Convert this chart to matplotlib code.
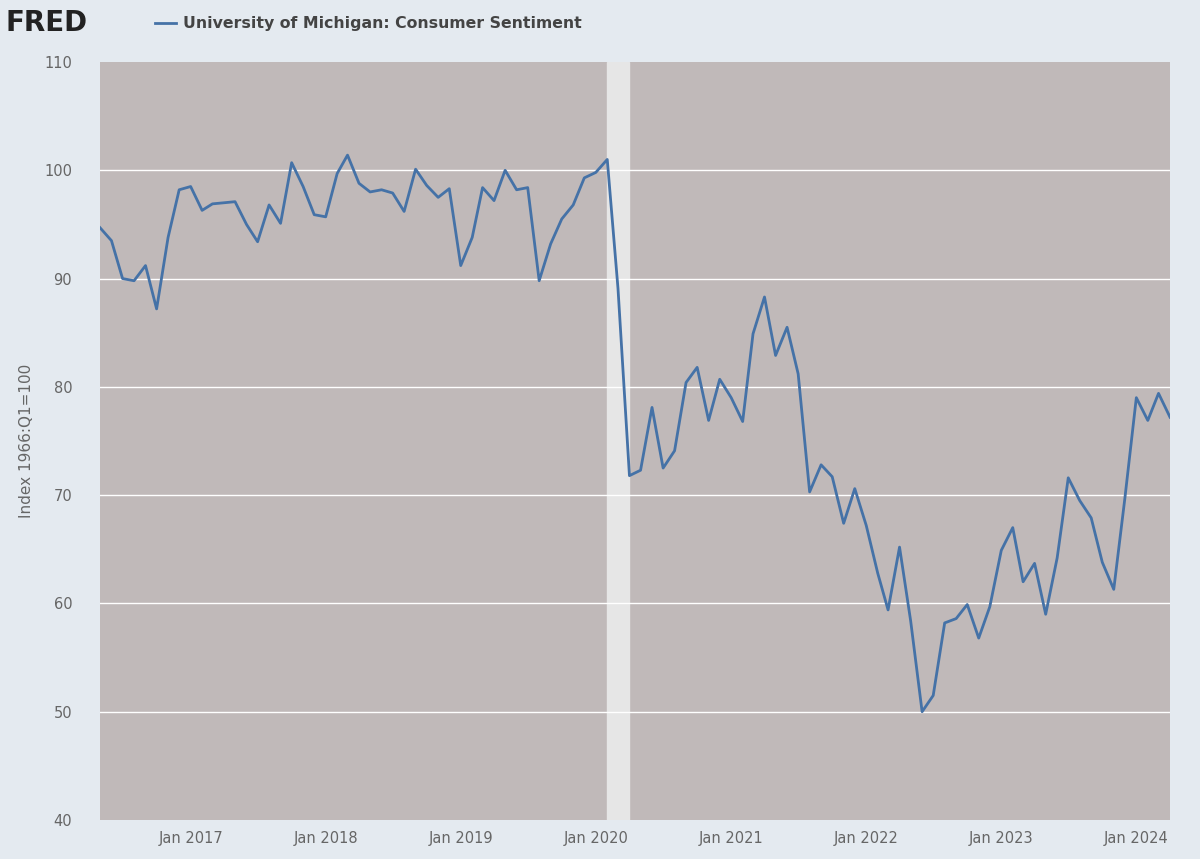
import matplotlib
matplotlib.use("Agg")
import matplotlib.pyplot as plt
import pandas as pd

start = "2016-05-01"
values = [94.7, 93.5, 90.0, 89.8, 91.2, 87.2, 93.8, 98.2,
          98.5, 96.3, 96.9, 97.0, 97.1, 95.0, 93.4, 96.8, 95.1, 100.7, 98.5, 95.9,
          95.7, 99.7, 101.4, 98.8, 98.0, 98.2, 97.9, 96.2, 100.1, 98.6, 97.5, 98.3,
          91.2, 93.8, 98.4, 97.2, 100.0, 98.2, 98.4, 89.8, 93.2, 95.5, 96.8, 99.3,
          99.8, 101.0, 89.1, 71.8, 72.3, 78.1, 72.5, 74.1, 80.4, 81.8, 76.9, 80.7,
          79.0, 76.8, 84.9, 88.3, 82.9, 85.5, 81.2, 70.3, 72.8, 71.7, 67.4, 70.6,
          67.2, 62.8, 59.4, 65.2, 58.4, 50.0, 51.5, 58.2, 58.6, 59.9, 56.8, 59.7,
          64.9, 67.0, 62.0, 63.7, 59.0, 64.2, 71.6, 69.5, 67.9, 63.8, 61.3, 69.7,
          79.0, 76.9, 79.4, 77.2]
dates = pd.date_range(start, periods=len(values), freq="MS")
recession = ("2020-02-01", "2020-04-01")
xtick_dates = ["2017-01-01", "2018-01-01", "2019-01-01", "2020-01-01",
               "2021-01-01", "2022-01-01", "2023-01-01", "2024-01-01"]
xtick_labels = ["Jan 2017", "Jan 2018", "Jan 2019", "Jan 2020",
                "Jan 2021", "Jan 2022", "Jan 2023", "Jan 2024"]
yticks = [40, 50, 60, 70, 80, 90, 100, 110]

fig = plt.figure(figsize=(12, 8.59), dpi=100)
fig.patch.set_facecolor("#e4eaf0")
ax = fig.add_axes([100/1200, 1-820/859, 1070/1200, 758/859])
ax.set_facecolor("#c0b9b9")
ax.axvspan(pd.Timestamp(recession[0]), pd.Timestamp(recession[1]), color="#e6e6e6", zorder=1)
for y in yticks[1:-1]:
    ax.axhline(y, color="white", lw=1, zorder=2)
ax.plot(dates, values, color="#4572a7", lw=2, zorder=3)
ax.set_xlim(dates[0], dates[-1])
ax.set_ylim(40, 110)
ax.set_yticks(yticks)
ax.set_xticks([pd.Timestamp(d) for d in xtick_dates])
ax.set_xticklabels(xtick_labels)
ax.tick_params(colors="#666666", labelsize=10.5, length=0)
ax.tick_params(axis="x", pad=8)
ax.tick_params(axis="y", pad=20)
for s in ax.spines.values():
    s.set_visible(False)
ax.set_ylabel("Index 1966:Q1=100", color="#666666", fontsize=11)
ax.yaxis.set_label_coords(-0.062, 0.5)

fig.text(0.005, 0.973, "FRED", fontsize=20, fontweight="bold", color="#222222", va="center")
fig.lines.append(plt.Line2D([155/1200, 176/1200], [0.973, 0.973], transform=fig.transFigure, color="#4572a7", lw=2))
fig.text(183/1200, 0.973, "University of Michigan: Consumer Sentiment", fontsize=11.3, fontweight="bold",
         color="#444444", va="center")
fig.savefig("out.png", dpi=100, facecolor=fig.get_facecolor())
